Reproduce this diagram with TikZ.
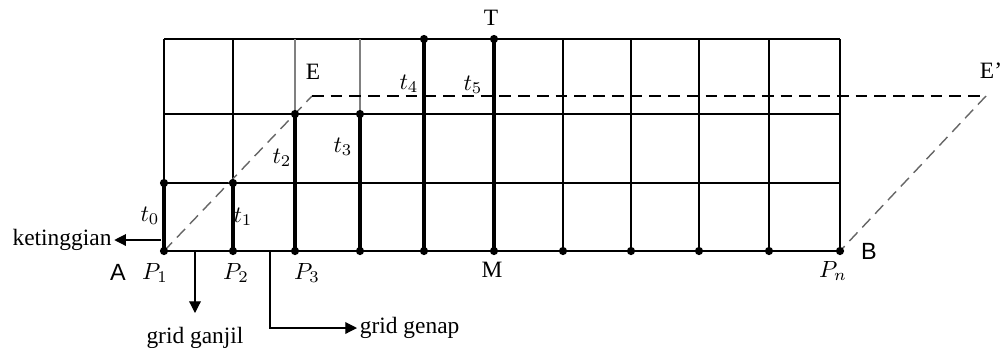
\documentclass[tikz,border=0pt]{standalone}
\usepackage{fontspec}
\setmainfont{Liberation Serif}
\newfontfamily\abfont{Liberation Sans}
\usetikzlibrary{arrows.meta}
\begin{document}
\begin{tikzpicture}[x=0.015cm,y=-0.015cm,
  gridline/.style={line width=0.5pt},
  lightline/.style={line width=0.5pt, gray},
  stem/.style={line width=1.5pt},
  dot/.style={circle, fill, inner sep=0pt, minimum size=3.5pt},
  guide/.style={dash pattern=on 5pt off 3pt, line width=0.6pt},
  lab/.style={font=\fontsize{10}{12}\selectfont, inner sep=1pt},
  arr/.style={-{Triangle[length=5pt,width=5pt]}, line width=0.5pt}]
\useasboundingbox (0,0) rectangle (1000,347);
\foreach \i/\x in {0/164,1/233,2/295,3/360,4/424,5/494,6/563,7/631,8/699,9/769,10/840} {
  \coordinate (b\i) at (\x,251);
  \coordinate (m\i) at (\x,183);
  \coordinate (h\i) at (\x,114);
  \coordinate (t\i) at (\x,39);
}
% grid
\draw[gridline] (t0) -- (t10);
\draw[gridline] (h0) -- (h10);
\draw[gridline] (m0) -- (m10);
\draw[gridline] (b0) -- (b10);
\foreach \i in {0,1,4,5,6,7,8,9,10} \draw[gridline] (t\i) -- (b\i);
\foreach \i in {2,3} { \draw[gridline] (h\i) -- (b\i); \draw[lightline] (t\i) -- (h\i); }
% dashed guide
\coordinate (E) at (312,96);
\coordinate (Ep) at (986,96);
\draw[guide, gray!80!black] (b0) -- (E);
\draw[guide] (E) -- (Ep);
\draw[guide, gray!80!black] (Ep) -- (b10);
% stems
\draw[stem] (b0) -- (m0);
\draw[stem] (b1) -- (m1);
\draw[stem] (b2) -- (h2);
\draw[stem] (b3) -- (h3);
\draw[stem] (b4) -- (t4);
\draw[stem] (b5) -- (t5);
% dots
\foreach \i in {0,...,10} \node[dot] (db\i) at (b\i) {};
\node[dot] (dm0) at (m0) {};
\node[dot] (dm1) at (m1) {};
\node[dot] (dh2) at (h2) {};
\node[dot] (dh3) at (h3) {};
\node[dot] (dt4) at (t4) {};
\node[dot] (dt5) at (t5) {};
% labels
\node[lab] (lt0) at (150,216) {$t_0$};
\node[lab] (lt1) at (243,217) {$t_1$};
\node[lab] (lt2) at (282,158) {$t_2$};
\node[lab] (lt3) at (343,147) {$t_3$};
\node[lab] (lt4) at (409,84) {$t_4$};
\node[lab] (lt5) at (473,85) {$t_5$};
\node[lab] (lE) at (313,72) {E};
\node[lab] (lEp) at (991,71) {E’};
\node[lab] (lT) at (491,18) {T};
\node[lab] (lM) at (492,270) {M};
\node[lab] (lA) at (118,272) {\abfont A};
\node[lab] (lB) at (869,251) {\abfont B};
\node[lab] (lP1) at (155,273) {$P_1$};
\node[lab] (lP2) at (236,273) {$P_2$};
\node[lab] (lP3) at (307,273) {$P_3$};
\node[lab] (lPn) at (833,271) {$P_n$};
% annotations
\node[lab] (ket) at (62,240) {ketinggian};
\coordinate (kst) at (161,240);
\draw[arr] (kst) -- (ket.east);
\node[lab] (gg) at (195,338) {grid ganjil};
\coordinate (ggs) at (195,251);
\coordinate (gge) at (195,313);
\draw[arr] (ggs) -- (gge);
\node[lab, anchor=west] (gp) at (357,328) {grid genap};
\coordinate (gps) at (270,251);
\draw[arr] (gps) |- (gp.west);
\end{tikzpicture}
\end{document}
